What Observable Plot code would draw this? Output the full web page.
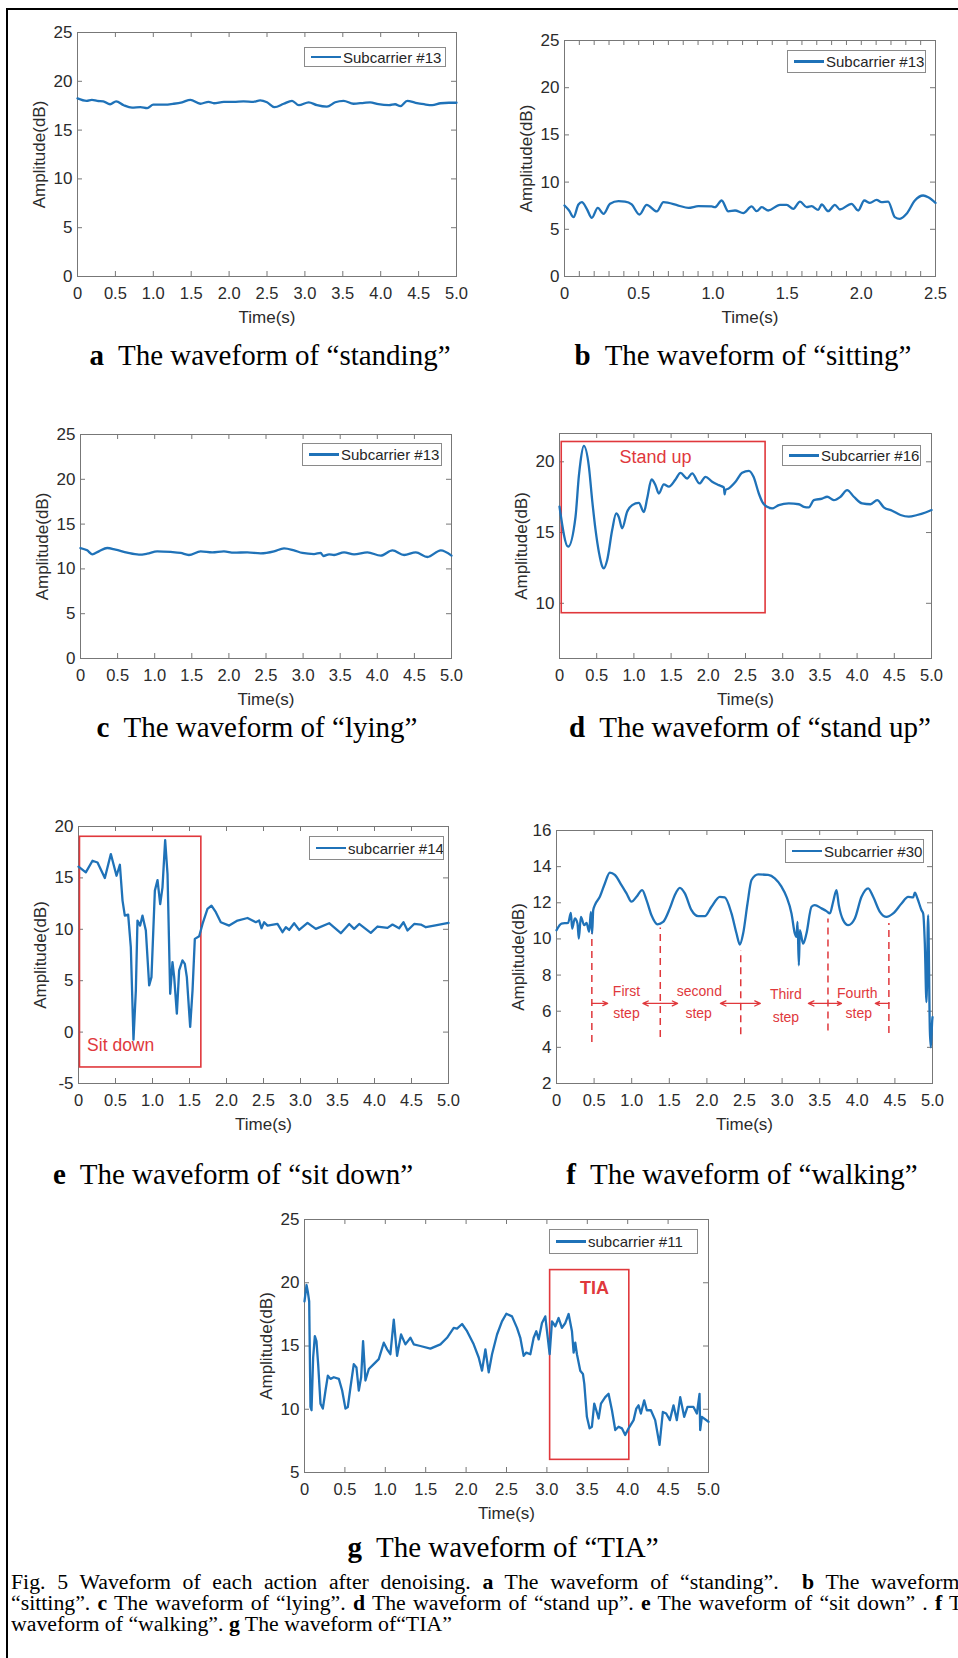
<!DOCTYPE html>
<html><head><meta charset="utf-8">
<script src="https://cdn.jsdelivr.net/npm/d3@7"></script>
<script src="https://cdn.jsdelivr.net/npm/@observablehq/plot@0.6"></script>
<style>
html,body{margin:0;padding:0;background:#fff;overflow:hidden;}
#page{position:relative;width:958px;height:1658px;overflow:hidden;background:#fff;}
.border{position:absolute;left:6px;top:8px;width:2000px;height:2000px;border-left:2.5px solid #000;border-top:2.5px solid #000;}
.legend{position:absolute;box-sizing:border-box;border:1px solid #8a8a8a;background:#fff;font:15px "Liberation Sans",Arial,sans-serif;color:#262626;display:flex;align-items:center;white-space:nowrap;overflow:hidden;}
.legend .sw{display:inline-block;flex:none;width:30px;height:2.6px;background:#1f72b8;margin:0 2px 0 6px;}
.cap{position:absolute;font:29px "Liberation Serif","Times New Roman",serif;color:#000;white-space:nowrap;transform:translate(-50%,-50%);}
.note{position:absolute;left:11px;top:1572px;font:20px "Liberation Serif","Times New Roman",serif;line-height:21px;color:#000;transform-origin:0 0;}
.note div{white-space:nowrap;}
</style>
</head><body><div id="page"><div class="border"></div></div>
<script>
// ---------- data (time s, amplitude dB) ----------
const timeTicks = [0,0.5,1,1.5,2,2.5,3,3.5,4,4.5,5];
const timeTicksB = [0,0.5,1,1.5,2,2.5];
const timeMinorB = [0,0.1,0.2,0.3,0.4,0.5,0.6,0.7,0.8,0.9,1,1.1,1.2,1.3,1.4,1.5,1.6,1.7,1.8,1.9,2,2.1,2.2,2.3,2.4,2.5];
const ampTicks25 = [0,5,10,15,20,25];
const ampTicksD = [10,15,20];
const ampTicksE = [-5,0,5,10,15,20];
const ampTicksF = [2,4,6,8,10,12,14,16];
const ampTicksG = [5,10,15,20,25];

const standing = [[0,18.25],[0.12,18.0],[0.19,18.1],[0.26,18.0],[0.34,17.95],[0.43,17.65],[0.51,17.95],[0.61,17.55],[0.72,17.3],[0.83,17.35],[0.92,17.25],[1.0,17.6],[1.14,17.6],[1.27,17.7],[1.38,17.85],[1.49,18.1],[1.62,17.7],[1.73,17.9],[1.80,17.75],[1.93,17.9],[2.06,17.9],[2.19,17.95],[2.32,17.9],[2.41,18.05],[2.50,17.85],[2.60,17.35],[2.72,17.7],[2.83,18.0],[2.92,17.55],[3.05,17.85],[3.16,17.55],[3.29,17.4],[3.40,17.85],[3.51,18.0],[3.64,17.7],[3.78,17.8],[3.86,17.85],[3.97,17.65],[4.11,17.55],[4.19,17.65],[4.26,17.45],[4.35,18.0],[4.46,17.8],[4.57,17.65],[4.68,17.55],[4.79,17.75],[4.90,17.8],[5.0,17.8]];

const sitting = [[0,7.52],[0.031,6.99],[0.061,6.29],[0.094,7.63],[0.117,7.87],[0.150,7.17],[0.184,6.21],[0.224,7.27],[0.263,6.64],[0.307,7.70],[0.364,7.98],[0.408,7.94],[0.453,7.63],[0.505,6.57],[0.554,7.59],[0.622,6.89],[0.667,7.87],[0.767,7.52],[0.835,7.27],[0.902,7.45],[0.992,7.42],[1.014,7.34],[1.059,8.05],[1.104,6.89],[1.149,6.99],[1.205,6.71],[1.261,7.42],[1.295,6.92],[1.329,7.34],[1.373,6.99],[1.452,7.59],[1.497,7.59],[1.542,7.17],[1.587,7.94],[1.632,7.34],[1.665,7.45],[1.710,7.06],[1.733,7.63],[1.777,6.92],[1.822,7.59],[1.856,7.10],[1.934,7.70],[1.979,6.99],[2.020,8.05],[2.058,7.80],[2.103,8.12],[2.136,7.87],[2.181,7.94],[2.226,6.29],[2.260,6.11],[2.305,6.64],[2.361,8.05],[2.417,8.58],[2.451,8.40],[2.50,7.80]];

const lying = [[0,12.33],[0.09,12.07],[0.157,11.63],[0.247,11.96],[0.36,12.33],[0.472,12.15],[0.629,11.81],[0.787,11.59],[0.899,11.70],[1.034,11.96],[1.214,11.89],[1.349,11.78],[1.461,11.55],[1.619,11.96],[1.776,11.85],[1.933,11.96],[2.068,11.81],[2.248,11.85],[2.428,11.74],[2.608,11.96],[2.743,12.30],[2.878,12.07],[2.99,11.78],[3.147,11.66],[3.237,11.78],[3.273,11.44],[3.35,11.63],[3.417,11.55],[3.552,11.85],[3.687,11.63],[3.867,11.85],[4.047,11.48],[4.204,12.07],[4.362,11.55],[4.519,11.85],[4.676,11.33],[4.856,12.07],[5.0,11.48]];

const standUp = [[0,16.83],[0.116,14.0],[0.215,16.1],[0.26,18.98],[0.282,20.0],[0.327,21.12],[0.394,19.7],[0.439,17.3],[0.484,15.2],[0.53,13.6],[0.575,12.6],[0.596,12.47],[0.641,13.06],[0.708,15.18],[0.762,16.35],[0.797,16.1],[0.842,15.3],[0.909,16.47],[0.977,16.94],[1.066,17.1],[1.134,16.45],[1.178,17.4],[1.237,18.75],[1.290,18.35],[1.335,17.76],[1.402,18.4],[1.470,18.24],[1.559,18.75],[1.626,19.22],[1.716,18.82],[1.783,19.18],[1.882,18.47],[1.962,18.94],[2.052,18.59],[2.142,18.35],[2.209,18.19],[2.22,17.7],[2.231,18.0],[2.276,18.12],[2.366,18.59],[2.455,19.22],[2.545,19.36],[2.608,18.94],[2.679,17.76],[2.724,17.18],[2.791,16.82],[2.858,16.71],[2.948,16.94],[3.082,17.06],[3.217,17.0],[3.284,16.82],[3.351,16.78],[3.418,17.29],[3.530,17.4],[3.598,17.53],[3.687,17.29],[3.777,17.53],[3.866,18.0],[3.956,17.53],[4.068,17.06],[4.180,17.0],[4.270,17.29],[4.359,16.78],[4.471,16.54],[4.583,16.24],[4.695,16.12],[4.807,16.24],[4.919,16.42],[5.0,16.59]];

const sitDown = [[0,16.09],[0.099,15.54],[0.189,16.67],[0.257,16.5],[0.356,14.99],[0.437,17.32],[0.514,15.21],[0.559,16.28],[0.595,12.79],[0.626,11.33],[0.671,11.43],[0.707,8.26],[0.743,-0.73],[0.775,4.06],[0.797,10.85],[0.833,10.36],[0.865,11.33],[0.910,9.88],[0.955,4.54],[0.986,5.35],[1.032,13.76],[1.068,14.79],[1.104,12.46],[1.135,14.08],[1.171,18.67],[1.203,15.38],[1.239,3.73],[1.270,6.80],[1.293,5.35],[1.329,1.79],[1.360,6.0],[1.405,6.97],[1.437,6.64],[1.464,5.35],[1.509,0.50],[1.541,4.06],[1.572,9.07],[1.631,9.33],[1.676,10.52],[1.743,11.98],[1.797,12.30],[1.856,11.66],[1.923,10.69],[2.036,10.36],[2.149,10.85],[2.284,11.1],[2.396,10.69],[2.441,10.85],[2.473,10.10],[2.509,10.69],[2.554,10.36],[2.689,10.52],[2.757,9.72],[2.802,10.2],[2.847,9.94],[2.914,10.59],[2.982,9.94],[3.095,10.62],[3.207,10.04],[3.387,10.59],[3.545,9.62],[3.658,10.52],[3.725,10.04],[3.793,10.52],[3.950,9.65],[4.041,10.27],[4.176,10.14],[4.243,10.46],[4.333,10.10],[4.392,10.69],[4.446,9.88],[4.536,10.52],[4.626,10.46],[4.694,10.20],[4.806,10.36],[5.0,10.62]];

const walking = [[0,10.48],[0.066,10.85],[0.155,10.89],[0.191,11.44],[0.208,10.57],[0.244,11.13],[0.279,10.85],[0.297,10.02],[0.324,11.22],[0.368,10.76],[0.399,10.89],[0.434,10.39],[0.457,11.5],[0.474,10.30],[0.488,11.59],[0.510,11.87],[0.576,12.33],[0.643,13.07],[0.709,13.67],[0.776,13.54],[0.864,12.98],[0.931,12.52],[0.997,12.06],[1.064,12.33],[1.139,12.70],[1.197,12.15],[1.263,11.31],[1.343,10.81],[1.418,10.94],[1.507,11.69],[1.574,12.43],[1.640,12.83],[1.707,12.52],[1.795,11.59],[1.884,11.26],[1.973,11.26],[2.061,11.78],[2.172,12.33],[2.238,12.30],[2.327,11.41],[2.394,10.30],[2.438,9.69],[2.482,10.30],[2.540,11.96],[2.593,13.26],[2.682,13.57],[2.815,13.54],[2.903,13.35],[2.992,12.89],[3.059,12.33],[3.125,11.41],[3.169,10.30],[3.191,10.11],[3.205,10.94],[3.223,8.54],[3.236,10.48],[3.280,9.74],[3.324,10.30],[3.391,11.78],[3.435,11.87],[3.524,11.69],[3.590,11.54],[3.635,11.41],[3.679,12.06],[3.723,12.70],[3.754,11.87],[3.812,11.04],[3.879,10.76],[3.967,11.13],[4.056,12.33],[4.145,12.80],[4.211,12.33],[4.300,11.50],[4.388,11.22],[4.477,11.41],[4.588,11.96],[4.676,12.33],[4.743,12.30],[4.765,12.56],[4.800,12.24],[4.854,11.59],[4.876,11.41],[4.898,9.74],[4.920,6.50],[4.942,11.31],[4.965,4.93],[4.978,4.0],[4.996,5.48],[5.0,5.67]];

const tia = [[0,18.52],[0.025,19.82],[0.041,19.30],[0.058,18.52],[0.074,10.18],[0.087,9.92],[0.107,14.09],[0.128,15.78],[0.148,15.39],[0.169,13.57],[0.198,10.44],[0.227,10.05],[0.260,11.48],[0.289,12.66],[0.322,12.40],[0.363,12.53],[0.425,12.40],[0.466,11.48],[0.507,10.05],[0.536,10.18],[0.569,11.74],[0.610,13.57],[0.643,13.30],[0.672,11.48],[0.701,12.53],[0.725,15.39],[0.754,12.27],[0.796,13.18],[0.857,13.57],[0.919,13.96],[0.981,15.26],[1.022,14.74],[1.063,14.35],[1.105,17.08],[1.146,14.22],[1.195,15.91],[1.249,15.13],[1.311,15.65],[1.352,15.13],[1.434,15.0],[1.558,14.79],[1.682,15.13],[1.764,15.65],[1.847,16.43],[1.888,16.38],[1.950,16.74],[2.012,16.17],[2.094,15.13],[2.156,14.09],[2.197,13.05],[2.239,14.74],[2.280,12.92],[2.321,14.35],[2.383,15.91],[2.444,16.95],[2.498,17.55],[2.568,17.34],[2.630,16.43],[2.671,15.65],[2.712,14.22],[2.745,14.48],[2.795,14.35],[2.836,15.65],[2.869,16.17],[2.898,15.52],[2.939,16.82],[2.980,17.34],[3.001,16.17],[3.034,14.35],[3.063,16.95],[3.104,16.56],[3.145,17.21],[3.186,16.43],[3.228,16.82],[3.269,17.53],[3.310,16.17],[3.331,14.48],[3.351,15.26],[3.372,14.35],[3.413,13.05],[3.446,12.79],[3.463,12.01],[3.495,9.40],[3.528,8.49],[3.557,8.62],[3.586,10.44],[3.611,9.92],[3.640,9.27],[3.669,10.44],[3.722,10.96],[3.763,11.22],[3.805,9.92],[3.846,8.36],[3.887,8.62],[3.928,8.49],[3.969,7.97],[4.011,8.49],[4.073,9.14],[4.106,10.05],[4.134,10.31],[4.163,9.66],[4.204,10.70],[4.237,9.92],[4.287,9.92],[4.340,9.14],[4.394,7.19],[4.435,9.79],[4.476,9.66],[4.522,9.14],[4.567,10.31],[4.608,9.14],[4.650,10.96],[4.699,9.40],[4.740,10.18],[4.814,10.18],[4.856,9.66],[4.889,11.22],[4.897,8.36],[4.918,9.40],[5.0,9.01]];

// annotations
const standUpBox = [{x1:0.03, x2:2.77, y1:9.3, y2:21.4}];
const standUpLabel = [{x:1.29, y:20.3, text:"Stand up"}];
const sitDownBox = [{x1:0.02, x2:1.66, y1:-3.44, y2:19.0}];
const sitDownLabel = [{x:0.57, y:-1.3, text:"Sit down"}];
const tiaBox = [{x1:3.04, x2:4.02, y1:6.0, y2:21.0}];
const tiaLabel = [{x:3.59, y:19.6, text:"TIA"}];
const stepLines = [{x:0.47,y1:4.27,y2:10.3},{x:1.38,y1:4.55,y2:10.6},{x:2.45,y1:4.7,y2:9.36},{x:3.61,y1:4.9,y2:11.1},{x:4.42,y1:4.77,y2:10.85}];
const stepArrowLevel = 6.43;
const stepArrows = [[0.47,0.68],[1.38,1.15],[1.38,1.61],[2.45,2.18],[2.45,2.71],[3.61,3.35],[3.61,3.79],[4.42,4.24]];
const stepLabels = [{x:0.93,y:7.1,text:"First"},{x:0.93,y:5.9,text:"step"},{x:1.90,y:7.1,text:"second"},{x:1.89,y:5.9,text:"step"},{x:3.05,y:6.9,text:"Third"},{x:3.05,y:5.65,text:"step"},{x:4.0,y:7.0,text:"Fourth"},{x:4.02,y:5.85,text:"step"}];

// ---------- drawing ----------
const BLUE = "#1f72b8", RED = "#e0383c", AXIS = "#777777";
const page = document.getElementById("page");
const fmtX = d => d === 0 ? "0" : d.toFixed(1);

function makePanel(p) {
  const ml = 62, mr = 14, mt = 10, mb = 56;
  const [x0, x1] = p.xDomain, [y0, y1] = p.yDomain;
  const tkY = (y1 - y0) * 5 / p.h, tkX = (x1 - x0) * 5 / p.w;
  const rows = p.data.map(([t, a]) => ({t, a}));
  const minor = p.xMinor || p.xTicks;
  const svg = Plot.plot({
    width: p.w + ml + mr, height: p.h + mt + mb,
    marginLeft: ml, marginRight: mr, marginTop: mt, marginBottom: mb,
    x: {domain: p.xDomain}, y: {domain: p.yDomain},
    style: {fontFamily: '"Liberation Sans", Arial, sans-serif', fontSize: "16.5px", color: "#2b2b2b", background: "transparent", overflow: "visible"},
    marks: [
      Plot.ruleX(minor, {y1: y0, y2: y0 + tkY, stroke: AXIS}),
      Plot.ruleX(minor, {y1: y1, y2: y1 - tkY, stroke: AXIS}),
      Plot.ruleY(p.yTicks, {x1: x0, x2: x0 + tkX, stroke: AXIS}),
      Plot.ruleY(p.yTicks, {x1: x1, x2: x1 - tkX, stroke: AXIS}),
      Plot.frame({stroke: AXIS}),
      Plot.axisX({ticks: p.xTicks, tickSize: 0, tickPadding: 11, tickFormat: fmtX, label: null, fontSize: 16.5}),
      Plot.axisY({ticks: p.yTicks, tickSize: 0, tickPadding: 5, tickFormat: d => String(d), label: null, fontSize: 17}),
      Plot.text(["Time(s)"], {text: d => d, frameAnchor: "bottom", textAnchor: "middle", lineAnchor: "middle", dy: 41, fontSize: 17}),
      Plot.text(["Amplitude(dB)"], {text: d => d, frameAnchor: "left", textAnchor: "middle", lineAnchor: "middle", rotate: -90, dx: -38, fontSize: 17}),
      ...(p.extras || []),
      Plot.line(rows, {x: "t", y: "a", stroke: BLUE, strokeWidth: 2.3, curve: p.curve || "linear"})
    ]
  });
  svg.style.position = "absolute";
  svg.style.left = (p.left - ml) + "px";
  svg.style.top = (p.top - mt) + "px";
  page.appendChild(svg);

  const lg = document.createElement("div");
  lg.className = "legend";
  const [lx0, lx1, ly0, ly1] = p.legendBox;
  Object.assign(lg.style, {left: lx0 + "px", top: ly0 + "px", width: (lx1 - lx0) + "px", height: (ly1 - ly0) + "px"});
  lg.innerHTML = '<span class="sw"></span><span>' + p.legend + '</span>';
  page.appendChild(lg);

  const cap = document.createElement("div");
  cap.className = "cap";
  cap.style.left = p.capPos[0] + "px";
  cap.style.top = p.capPos[1] + "px";
  cap.innerHTML = "<b>" + p.capLetter + "</b>&nbsp; " + p.capText;
  page.appendChild(cap);
}

const boxMark = b => Plot.rect(b, {x1: "x1", x2: "x2", y1: "y1", y2: "y2", fill: "none", stroke: RED, strokeWidth: 1.6});

makePanel({left: 77, top: 32, w: 379, h: 244, xDomain: [0, 5], yDomain: [0, 25], xTicks: timeTicks, yTicks: ampTicks25,
  data: standing, curve: "monotone-x", legend: "Subcarrier #13", legendBox: [304, 446, 47, 67],
  capLetter: "a", capText: "The waveform of “standing”", capPos: [270, 355]});

makePanel({left: 564, top: 40, w: 371, h: 236, xDomain: [0, 2.5], yDomain: [0, 25], xTicks: timeTicksB, xMinor: timeMinorB, yTicks: ampTicks25,
  data: sitting, curve: "monotone-x", legend: "Subcarrier #13", legendBox: [787, 926, 50, 73],
  capLetter: "b", capText: "The waveform of “sitting”", capPos: [743, 355]});

makePanel({left: 80, top: 434, w: 371, h: 224, xDomain: [0, 5], yDomain: [0, 25], xTicks: timeTicks, yTicks: ampTicks25,
  data: lying, curve: "monotone-x", legend: "Subcarrier #13", legendBox: [302, 442, 443, 466],
  capLetter: "c", capText: "The waveform of “lying”", capPos: [257, 727]});

makePanel({left: 559, top: 433, w: 372, h: 225, xDomain: [0, 5], yDomain: [6.1, 22], xTicks: timeTicks, yTicks: ampTicksD,
  data: standUp, curve: "monotone-x", legend: "Subcarrier #16", legendBox: [782, 921, 445, 466],
  extras: [boxMark(standUpBox), Plot.text(standUpLabel, {x: "x", y: "y", text: "text", fill: RED, fontSize: 18})],
  capLetter: "d", capText: "The waveform of “stand up”", capPos: [750, 727]});

makePanel({left: 78, top: 826, w: 370, h: 257, xDomain: [0, 5], yDomain: [-5, 20], xTicks: timeTicks, yTicks: ampTicksE,
  data: sitDown, curve: "linear", legend: "subcarrier #14", legendBox: [309, 444, 836, 860],
  extras: [boxMark(sitDownBox), Plot.text(sitDownLabel, {x: "x", y: "y", text: "text", fill: RED, fontSize: 17.5})],
  capLetter: "e", capText: "The waveform of “sit down”", capPos: [233, 1174]});

makePanel({left: 556, top: 830, w: 376, h: 253, xDomain: [0, 5], yDomain: [2, 16], xTicks: timeTicks, yTicks: ampTicksF,
  data: walking, curve: "monotone-x", legend: "Subcarrier #30", legendBox: [785, 924, 839, 863],
  extras: [
    Plot.ruleX(stepLines, {x: "x", y1: "y1", y2: "y2", stroke: RED, strokeWidth: 1.5, strokeDasharray: "7,5"}),
    Plot.arrow(stepArrows, {x1: d => d[0], x2: d => d[1], y1: stepArrowLevel, y2: stepArrowLevel, stroke: RED, strokeWidth: 1.3, headLength: 7, headAngle: 50}),
    Plot.text(stepLabels, {x: "x", y: "y", text: "text", fill: RED, fontSize: 14})
  ],
  capLetter: "f", capText: "The waveform of “walking”", capPos: [742, 1174]});

makePanel({left: 304, top: 1219, w: 404, h: 253, xDomain: [0, 5], yDomain: [5, 25], xTicks: timeTicks, yTicks: ampTicksG,
  data: tia, curve: "linear", legend: "subcarrier #11", legendBox: [549, 698, 1229, 1254],
  extras: [boxMark(tiaBox), Plot.text(tiaLabel, {x: "x", y: "y", text: "text", fill: RED, fontSize: 18, fontWeight: "bold"})],
  capLetter: "g", capText: "The waveform of “TIA”", capPos: [503, 1547]});

// figure caption
const noteScale = 1.09;
const noteLines = [
  {html: 'Fig. 5 Waveform of each action after denoising. <b>a</b> The waveform of “standing”.&nbsp; <b>b</b> The waveform of', justify: 972},
  {html: '“sitting”. <b>c</b> The waveform of “lying”. <b>d</b> The waveform of “stand up”. <b>e</b> The waveform of “sit down” . <b>f</b> The', justify: 972},
  {html: 'waveform of “walking”. <b>g</b> The waveform of“TIA”', justify: 0}
];
const note = document.createElement("div");
note.className = "note";
page.appendChild(note);
for (const ln of noteLines) {
  const d = document.createElement("div");
  d.innerHTML = ln.html;
  note.appendChild(d);
  if (ln.justify) {
    d.style.display = "inline-block";
    const nat = d.getBoundingClientRect().width;
    const target = ln.justify / noteScale;
    const spaces = (d.textContent.match(/ /g) || []).length;
    if (spaces > 0 && nat < target) d.style.wordSpacing = ((target - nat) / spaces) + "px";
    d.style.display = "block";
  }
}
note.style.transform = "scaleX(" + noteScale + ")";
</script>
</body></html>
